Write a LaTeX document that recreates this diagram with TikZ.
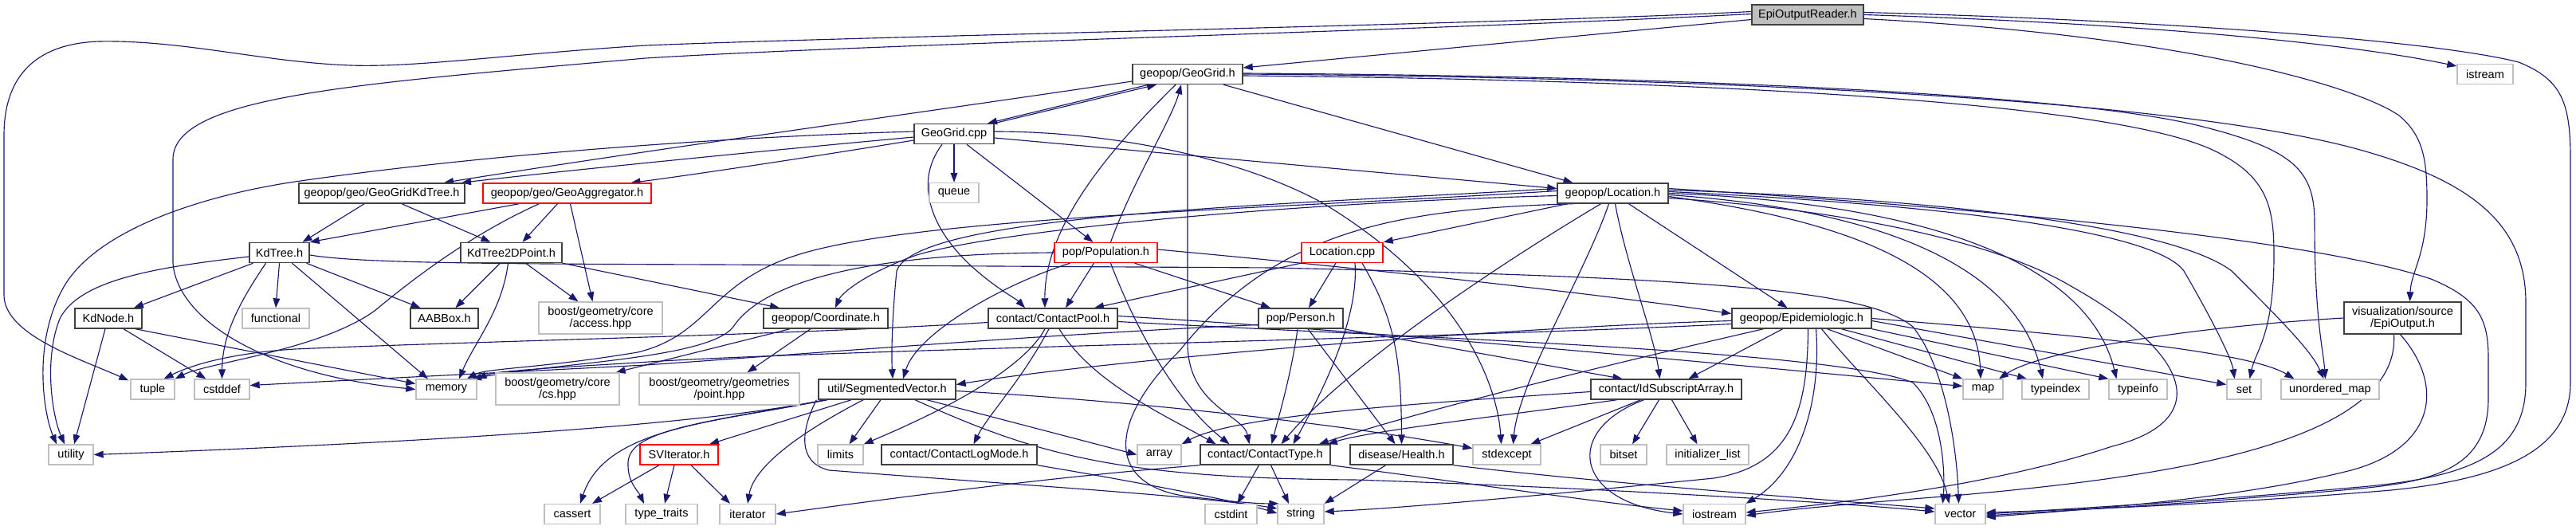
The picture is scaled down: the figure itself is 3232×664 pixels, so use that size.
\documentclass[tikz,border=0pt]{standalone}
\usepackage{fontspec}
\setmainfont{Liberation Sans}
\usetikzlibrary{arrows.meta,calc}
\definecolor{edgec}{RGB}{25,25,112}
\definecolor{intb}{RGB}{64,64,64}
\definecolor{extb}{RGB}{191,191,191}
\definecolor{rootf}{RGB}{191,191,191}
\pgfdeclarelayer{bg}
\pgfsetlayers{bg,main}
\begin{document}
\begin{tikzpicture}[x=0.75pt,y=-0.75pt,
  nb/.style={rectangle,inner sep=0pt,minimum height=18.75pt,font=\fontsize{10.9}{11.5}\selectfont,fill=white,line width=1.1pt,draw=intb,align=center},
  ext/.style={nb,draw=extb,line width=1pt},
  redb/.style={nb,draw=red,line width=1pt},
  rootb/.style={nb,fill=rootf},
  e/.style={draw=edgec,line width=0.85pt,-{Triangle[length=9pt,width=6.5pt]}}]
\begin{pgfonlayer}{bg}
\fill[white] (0,0) rectangle (3232,664);
\end{pgfonlayer}
\path[use as bounding box] (0,0) rectangle (3232,664);
% nodes
\node[rootb,minimum width=105pt] (EOR) at (2268,18.5) {EpiOutputReader.h};
\node[nb,minimum width=103.5pt] (GG) at (1490,93) {geopop/GeoGrid.h};
\node[ext,minimum width=52.5pt] (IST) at (3118,93) {istream};
\node[nb,minimum width=75pt] (GGC) at (1197,168) {GeoGrid.cpp};
\node[nb,minimum width=156pt] (GKD) at (479,242.5) {geopop/geo/GeoGridKdTree.h};
\node[redb,minimum width=158.25pt] (GAG) at (711.5,242.5) {geopop/geo/GeoAggregator.h};
\node[ext,minimum width=46.5pt] (QUE) at (1197,242) {queue};
\node[nb,minimum width=104.25pt] (LOC) at (2023.5,242.5) {geopop/Location.h};
\node[nb,minimum width=56.25pt] (KDT) at (350.5,317) {KdTree.h};
\node[nb,minimum width=95.25pt] (KD2) at (641.5,317) {KdTree2DPoint.h};
\node[redb,minimum width=96.75pt] (POP) at (1387.5,317) {pop/Population.h};
\node[redb,minimum width=76.5pt] (LCPP) at (1684,317) {Location.cpp};
\node[nb,minimum width=63pt] (KDN) at (136,399.5) {KdNode.h};
\node[ext,minimum width=63pt] (FUN) at (346,399.5) {functional};
\node[nb,minimum width=63.75pt] (AAB) at (557.5,399.5) {AABBox.h};
\node[ext,minimum width=116.25pt,minimum height=30pt] (ACC) at (753.5,399) {boost/geometry/core\\/access.hpp};
\node[nb,minimum width=117pt] (COO) at (1036,399.5) {geopop/Coordinate.h};
\node[nb,minimum width=121.5pt] (CPL) at (1321,399.5) {contact/ContactPool.h};
\node[nb,minimum width=79.5pt] (PER) at (1632,399.5) {pop/Person.h};
\node[nb,minimum width=131.25pt] (EPI) at (2260.5,399.5) {geopop/Epidemiologic.h};
\node[nb,minimum width=110.25pt,minimum height=30pt] (EPO) at (3014.5,399) {visualization/source\\/EpiOutput.h};
\node[ext,minimum width=41.25pt] (TUP) at (191.5,488.5) {tuple};
\node[ext,minimum width=51.75pt] (CSD) at (278.5,488.5) {cstddef};
\node[ext,minimum width=57pt] (MEM) at (560,488.5) {memory};
\node[ext,minimum width=116.25pt,minimum height=30pt] (CS) at (699.5,488) {boost/geometry/core\\/cs.hpp};
\node[ext,minimum width=150.75pt,minimum height=30pt] (PT) at (902.5,488) {boost/geometry/geometries\\/point.hpp};
\node[nb,minimum width=129pt] (SEG) at (1113,488.5) {util/SegmentedVector.h};
\node[nb,minimum width=141.75pt] (IDS) at (2090.5,488.5) {contact/IdSubscriptArray.h};
\node[ext,minimum width=37.5pt] (MAP) at (2488,488.5) {map};
\node[ext,minimum width=63pt] (TIX) at (2579,488.5) {typeindex};
\node[ext,minimum width=54.75pt] (TIF) at (2682.5,488.5) {typeinfo};
\node[ext,minimum width=32.25pt] (SET) at (2815.5,488.5) {set};
\node[ext,minimum width=92.25pt] (UMAP) at (2923.5,488.5) {unordered\_map};
\node[ext,minimum width=42pt] (UTL) at (89,570.5) {utility};
\node[redb,minimum width=73.5pt] (SVI) at (852,570.5) {SVIterator.h};
\node[ext,minimum width=42.75pt] (LIM) at (1054.5,570.5) {limits};
\node[nb,minimum width=146.25pt] (CLM) at (1203.5,570.5) {contact/ContactLogMode.h};
\node[ext,minimum width=41.25pt] (ARR) at (1454.5,570.5) {array};
\node[nb,minimum width=122.25pt] (CTY) at (1587.5,570.5) {contact/ContactType.h};
\node[nb,minimum width=96.75pt] (HEA) at (1758.5,570.5) {disease/Health.h};
\node[ext,minimum width=63.75pt] (SEX) at (1890.5,570.5) {stdexcept};
\node[ext,minimum width=43.5pt] (BIT) at (2037,570.5) {bitset};
\node[ext,minimum width=77.25pt] (INL) at (2142.5,570.5) {initializer\_list};
\node[ext,minimum width=52.5pt] (CAS) at (718,645) {cassert};
\node[ext,minimum width=67.5pt] (TYT) at (830,645) {type\_traits};
\node[ext,minimum width=52.5pt] (ITR) at (938,645) {iterator};
\node[ext,minimum width=48.75pt] (CSI) at (1544.5,645) {cstdint};
\node[ext,minimum width=43.5pt] (STR) at (1632,645) {string};
\node[ext,minimum width=58.5pt] (IOS) at (2151,645) {iostream};
\node[ext,minimum width=47.25pt] (VEC) at (2459.5,645) {vector};
\begin{pgfonlayer}{bg}
% EpiOutputReader.h
\draw[e] ($(EOR.west)+(0,6)$) -- ($(GG.east)+(0,-8)$);
\draw[e] (EOR.east) .. controls (2700,30) and (2950,55) .. ($(IST.west)+(0,-10)$);
\draw[e] ($(EOR.east)+(0,5)$) .. controls (2750,45) and (2960,110) .. (3010,145) .. controls (3040,170) and (3045,200) .. (3045,250) .. controls (3045,320) and (3025,340) .. ($(EPO.north)+(9,0)$);
\draw[e] ($(EOR.east)+(0,-3)$) .. controls (2700,25) and (3050,50) .. (3160,78) .. controls (3215,100) and (3225,130) .. (3225,200) -- (3225,480) .. controls (3225,560) and (3150,600) .. (3000,615) .. controls (2800,632) and (2600,640) .. ($(VEC.east)+(0,-2)$);
\draw[e] ($(EOR.west)+(0,-4)$) .. controls (1900,30) and (1100,45) .. (810,57) .. controls (650,67) and (520,85) .. (440,82) .. controls (330,78) and (230,50) .. (124,52) .. controls (40,55) and (5,100) .. (5,170) -- (5,370) .. controls (5,420) and (100,450) .. ($(TUP.north west)+(-2,2)$);
\draw[e] ($(EOR.west)+(0,-1)$) .. controls (1800,38) and (1100,55) .. (810,73) .. controls (450,105) and (217,120) .. (217,200) -- (217,330) .. controls (222,400) and (330,470) .. (MEM.west);
% geopop/GeoGrid.h
\draw[e] ($(GG.south)+(-49,0)$) -- ($(GGC.north)+(42,0)$);
\draw[e] ($(GG.west)+(0,9)$) .. controls (1200,135) and (800,190) .. ($(GKD.north)+(78,0)$);
\draw[e] ($(GG.south)+(45,0)$) -- ($(LOC.north)+(-50,0)$);
\draw[e] ($(GG.south)+(-15,0)$) .. controls (1400,180) and (1310,280) .. ($(CPL.north)+(-10,0)$);
\draw[e] (GG.south) -- (1490,430) .. controls (1490,510) and (1560,520) .. ($(CTY.north)+(-20,0)$);
\draw[e] ($(GG.east)+(0,-1)$) .. controls (2100,95) and (2600,118) .. (2760,158) .. controls (2880,188) and (2904,215) .. (2904,280) .. controls (2904,400) and (2915,440) .. ($(UMAP.north)+(-6,0)$);
\draw[e] ($(GG.east)+(0,2)$) .. controls (2100,100) and (2650,125) .. (2780,190) .. controls (2845,222) and (2853,260) .. (2853,320) .. controls (2853,420) and (2830,440) .. ($(SET.north)+(7,0)$);
\draw[e] (GG.east) .. controls (2100,97) and (2700,120) .. (2950,185) .. controls (3100,225) and (3169,280) .. (3169,380) -- (3169,480) .. controls (3169,570) and (3100,600) .. (2950,612) .. controls (2750,630) and (2600,638) .. (VEC.east);
% GeoGrid.cpp
\draw[e] ($(GGC.north)+(50,0)$) -- ($(GG.south)+(-39,0)$);
\draw[e] ($(GGC.west)+(0,4)$) .. controls (950,190) and (700,215) .. ($(GKD.north)+(100,0)$);
\draw[e] ($(GGC.west)+(0,8)$) .. controls (1000,200) and (850,222) .. ($(GAG.north)+(80,0)$);
\draw[e] ($(GGC.west)+(0,-3)$) .. controls (900,172) and (600,195) .. (377,227) .. controls (250,245) and (120,290) .. (80,360) .. controls (40,430) and (55,520) .. ($(UTL.north)+(-18,0)$);
\draw[e] (GGC.south) -- (QUE.north);
\draw[e] ($(GGC.south)+(16,0)$) -- ($(POP.north)+(-16,0)$);
\draw[e] ($(GGC.south)+(-15,0)$) .. controls (1145,230) and (1170,290) .. (1220,335) .. controls (1250,362) and (1275,375) .. ($(CPL.north)+(-35,0)$);
\draw[e] ($(GGC.east)+(0,5)$) -- ($(LOC.west)+(0,-6)$);
\draw[e] ($(GGC.east)+(0,-3)$) .. controls (1400,165) and (1560,200) .. (1660,255) .. controls (1850,370) and (1880,500) .. ($(SEX.north)+(-7,0)$);
% GeoGridKdTree.h, GeoAggregator.h
\draw[e] ($(GKD.south)+(-22,0)$) -- ($(KDT.north)+(29,0)$);
\draw[e] ($(GKD.south)+(25,0)$) -- ($(KD2.north)+(-26,0)$);
\draw[e] ($(GAG.south)+(-60,0)$) -- (KDT.north east);
\draw[e] ($(GAG.south)+(-12,0)$) -- ($(KD2.north)+(14,0)$);
\draw[e] ($(GAG.south)+(-35,0)$) .. controls (600,290) and (530,340) .. (470,390) .. controls (400,440) and (260,455) .. (TUP.north east);
\draw[e] ($(GAG.south)+(4,0)$) -- ($(ACC.north)+(-10,0)$);
% KdTree.h
\draw[e] ($(KDT.south)+(-33,0)$) -- ($(KDN.north)+(32,0)$);
\draw[e] ($(KDT.south)+(-17,0)$) .. controls (300,380) and (279,420) .. (CSD.north);
\draw[e] (KDT.south) -- (FUN.north);
\draw[e] ($(KDT.south)+(16,0)$) -- ($(MEM.north)+(-23,0)$);
\draw[e] ($(KDT.south)+(34,0)$) -- ($(AAB.north)+(-30,0)$);
\draw[e] ($(KDT.west)+(0,5)$) .. controls (200,335) and (100,350) .. (75,400) .. controls (55,450) and (65,520) .. ($(UTL.north)+(-8,0)$);
\draw[e] ($(KDT.east)+(0,3)$) .. controls (450,330) and (600,331) .. (900,332) -- (1600,336) .. controls (2100,348) and (2340,360) .. (2400,410) .. controls (2440,460) and (2455,560) .. ($(VEC.north)+(-2,0)$);
% KdTree2DPoint.h
\draw[e] ($(KD2.south)+(-14,0)$) -- ($(AAB.north)+(14,0)$);
\draw[e] ($(KD2.south)+(-4,0)$) .. controls (630,390) and (595,430) .. ($(MEM.north)+(16,0)$);
\draw[e] ($(KD2.south)+(18,0)$) -- ($(ACC.north)+(-28,0)$);
\draw[e] (KD2.south east) -- ($(COO.north)+(-58,0)$);
% KdNode.h
\draw[e] ($(KDN.south)+(-4,0)$) -- ($(UTL.north)+(4,0)$);
\draw[e] ($(KDN.south)+(19,0)$) -- ($(CSD.north)+(-20,0)$);
\draw[e] ($(KDN.south)+(34,0)$) -- ($(MEM.west)+(0,-7)$);
% Coordinate.h
\draw[e] ($(COO.south)+(-45,0)$) -- ($(CS.north east)+(-5,0)$);
\draw[e] ($(COO.south)+(-19,0)$) -- ($(PT.north)+(35,0)$);
% Population.h
\draw[e] ($(POP.north)+(6,0)$) .. controls (1420,230) and (1470,150) .. ($(GG.south)+(-8,0)$);
\draw[e] ($(POP.south)+(-15,0)$) -- ($(CPL.north)+(16,0)$);
\draw[e] ($(POP.south)+(36,0)$) -- ($(PER.north)+(-38,0)$);
\draw[e] ($(POP.east)+(0,-4)$) .. controls (1800,345) and (2050,375) .. ($(EPI.west)+(0,-6)$);
\draw[e] (POP.west) .. controls (1100,318) and (960,350) .. (920,410) .. controls (890,450) and (700,455) .. ($(MEM.north)+(32,0)$);
\draw[e] ($(POP.south)+(-45,0)$) .. controls (1250,360) and (1150,420) .. ($(SEG.north)+(20,0)$);
\draw[e] ($(POP.south)+(6,0)$) .. controls (1420,400) and (1470,500) .. ($(CTY.north)+(-45,0)$);
% Location.h
\draw[e] ($(LOC.south)+(-57,0)$) -- (LCPP.north east);
\draw[e] ($(LOC.west)+(0,-3)$) .. controls (1600,262) and (1150,272) .. (1000,320) .. controls (890,355) and (890,420) .. (800,442) .. controls (680,462) and (610,462) .. ($(MEM.north)+(26,0)$);
\draw[e] ($(LOC.west)+(0,3)$) .. controls (1600,255) and (1250,290) .. (1150,320) .. controls (1080,345) and (1055,370) .. ($(COO.north)+(12,0)$);
\draw[e] ($(LOC.west)+(0,-6)$) .. controls (1600,258) and (1150,268) .. (1125,340) .. controls (1120,390) and (1118,440) .. ($(SEG.north)+(7,0)$);
\draw[e] ($(LOC.south)+(-50,0)$) .. controls (1750,262) and (1600,290) .. (1480,440) .. controls (1380,540) and (1395,615) .. (1500,624) .. controls (1550,630) and (1580,632) .. ($(STR.north west)+(2,0)$);
\draw[e] ($(LOC.south)+(-15,0)$) .. controls (1850,350) and (1680,470) .. ($(CTY.north)+(20,0)$);
\draw[e] ($(LOC.south)+(-5,0)$) .. controls (1990,340) and (1905,480) .. ($(SEX.north)+(8,0)$);
\draw[e] ($(LOC.south)+(3,0)$) .. controls (2040,330) and (2075,420) .. ($(IDS.north)+(-8,0)$);
\draw[e] ($(LOC.south)+(20,0)$) -- ($(EPI.north)+(-18,0)$);
\draw[e] ($(LOC.east)+(0,4)$) .. controls (2300,275) and (2480,330) .. ($(MAP.north)+(-3,0)$);
\draw[e] ($(LOC.east)+(0,2)$) .. controls (2350,262) and (2530,330) .. ($(TIX.north)+(-16,0)$);
\draw[e] (LOC.east) .. controls (2420,255) and (2620,330) .. ($(TIF.north)+(-27,0)$);
\draw[e] ($(LOC.east)+(0,-2)$) .. controls (2400,255) and (2700,285) .. (2740,340) .. controls (2775,400) and (2800,450) .. ($(SET.north)+(-12,0)$);
\draw[e] ($(LOC.east)+(0,-4)$) .. controls (2400,248) and (2720,280) .. (2800,340) .. controls (2860,400) and (2900,440) .. ($(UMAP.north)+(-8,0)$);
\draw[e] ($(LOC.east)+(0,-6)$) .. controls (2500,262) and (2900,300) .. (3050,350) .. controls (3110,375) and (3122,400) .. (3122,450) -- (3122,500) .. controls (3122,590) and (3050,605) .. (2950,614) .. controls (2750,632) and (2600,640) .. ($(VEC.east)+(0,2)$);
\draw[e] ($(LOC.east)+(0,6)$) .. controls (2300,262) and (2500,300) .. (2600,360) .. controls (2760,450) and (2770,530) .. (2650,560) .. controls (2500,610) and (2300,632) .. ($(IOS.east)+(0,-2)$);
% Location.cpp
\draw[e] (LCPP.south west) -- ($(CPL.north)+(52,0)$);
\draw[e] ($(LCPP.south)+(-8,0)$) -- ($(PER.north)+(10,0)$);
\draw[e] ($(LCPP.south)+(16,0)$) .. controls (1705,400) and (1660,490) .. ($(CTY.north)+(35,0)$);
\draw[e] ($(LCPP.south)+(25,0)$) .. controls (1750,400) and (1758,450) .. (HEA.north);
% ContactPool.h
\draw[e] ($(CPL.west)+(0,5)$) .. controls (1000,420) and (600,428) .. (370,438) .. controls (290,443) and (240,458) .. ($(TUP.north)+(14,0)$);
\draw[e] ($(CPL.south)+(-10,0)$) .. controls (1280,470) and (1160,525) .. (LIM.north east);
\draw[e] ($(CPL.south)+(-5,0)$) .. controls (1280,480) and (1240,520) .. ($(CLM.north)+(18,0)$);
\draw[e] ($(CPL.south)+(8,0)$) .. controls (1370,480) and (1460,520) .. ($(CTY.north)+(-62,0)$);
\draw[e] ($(CPL.east)+(0,-3)$) .. controls (1800,420) and (2300,470) .. ($(MAP.west)+(0,-4)$);
\draw[e] ($(CPL.east)+(0,4)$) .. controls (1800,425) and (2300,440) .. (2400,480) .. controls (2440,520) and (2440,600) .. ($(VEC.north)+(-22,0)$);
% Person.h
\draw[e] ($(PER.south)+(-4,0)$) .. controls (1620,470) and (1605,520) .. ($(CTY.north)+(8,0)$);
\draw[e] ($(PER.south)+(9,0)$) -- ($(HEA.north)+(-8,0)$);
\draw[e] (PER.south east) -- ($(IDS.north)+(-55,0)$);
\draw[e] ($(PER.west)+(0,8)$) .. controls (1300,420) and (1000,445) .. (810,458) -- ($(CSD.east)+(0,-5)$);
% Epidemiologic.h
\draw[e] ($(EPI.south)+(-24,0)$) -- ($(IDS.north)+(28,0)$);
\draw[e] ($(EPI.south)+(-48,0)$) .. controls (2050,450) and (1800,510) .. ($(CTY.north east)+(-15,0)$);
\draw[e] ($(EPI.west)+(0,3)$) .. controls (1900,410) and (1400,450) .. ($(SEG.east)+(0,-6)$);
\draw[e] ($(EPI.west)+(0,7)$) .. controls (1800,425) and (1000,440) .. (800,455) .. controls (680,462) and (620,466) .. (MEM.north east);
\draw[e] ($(EPI.south)+(18,0)$) .. controls (2285,500) and (2260,590) .. (IOS.north east);
\draw[e] ($(EPI.south)+(8,0)$) .. controls (2268,520) and (2245,585) .. (2150,600) .. controls (1900,625) and (1750,638) .. ($(STR.east)+(0,-3)$);
\draw[e] ($(EPI.south)+(25,0)$) .. controls (2340,480) and (2430,560) .. ($(VEC.north)+(-14,0)$);
\draw[e] ($(EPI.south)+(32,0)$) -- (MAP.north west);
\draw[e] ($(EPI.south)+(50,0)$) -- ($(TIX.north)+(-36,0)$);
\draw[e] (EPI.south east) -- (TIF.north west);
\draw[e] ($(EPI.east)+(0,3)$) -- ($(SET.west)+(0,-6)$);
\draw[e] (EPI.east) .. controls (2600,420) and (2820,440) .. ($(UMAP.north)+(-45,0)$);
% IdSubscriptArray.h
\draw[e] ($(IDS.west)+(0,3)$) .. controls (1800,505) and (1550,520) .. (ARR.north east);
\draw[e] ($(IDS.south)+(-62,0)$) .. controls (1900,520) and (1720,540) .. ($(CTY.north east)+(-4,0)$);
\draw[e] ($(IDS.south)+(-32,0)$) -- ($(SEX.north)+(30,0)$);
\draw[e] ($(IDS.south)+(-28,0)$) .. controls (1960,540) and (1975,630) .. (IOS.west);
\draw[e] ($(IDS.south)+(-9,0)$) -- ($(BIT.north)+(11,0)$);
\draw[e] ($(IDS.south)+(7,0)$) -- ($(INL.north)+(-13,0)$);
% EpiOutput.h
\draw[e] (EPO.west) .. controls (2750,410) and (2560,440) .. ($(MAP.north)+(20,0)$);
\draw[e] ($(EPO.south)+(-11,0)$) .. controls (3012,560) and (2700,600) .. (2450,622) .. controls (2350,630) and (2250,638) .. ($(IOS.east)+(0,2)$);
\draw[e] ($(EPO.south)+(-3,0)$) .. controls (3065,480) and (3060,560) .. (2950,590) .. controls (2800,628) and (2600,640) .. ($(VEC.east)+(0,4)$);
% SegmentedVector.h
\draw[e] ($(SEG.south)+(-45,0)$) -- ($(SVI.north)+(38,0)$);
\draw[e] ($(SEG.south)+(-8,0)$) -- ($(LIM.north)+(11,0)$);
\draw[e] ($(SEG.south)+(-30,0)$) .. controls (990,550) and (945,590) .. (ITR.north);
\draw[e] ($(SEG.south)+(50,0)$) -- (ARR.west);
\draw[e] ($(SEG.south west)+(8,0)$) .. controls (850,540) and (400,560) .. (UTL.east);
\draw[e] ($(SEG.south west)+(10,0)$) .. controls (900,530) and (760,535) .. ($(CAS.north)+(10,0)$);
\draw[e] ($(SEG.south west)+(12,0)$) .. controls (880,530) and (790,540) .. (788,580) .. controls (787,605) and (800,615) .. ($(TYT.north)+(-22,0)$);
\draw[e] ($(SEG.east)+(0,2)$) .. controls (1450,505) and (1700,535) .. ($(SEX.west)+(0,-8)$);
\draw[e] ($(SEG.south west)+(-2,0)$) .. controls (1005,540) and (1000,580) .. (1040,590) .. controls (1300,610) and (1500,622) .. ($(STR.west)+(0,-7)$);
\draw[e] ($(SEG.south)+(35,0)$) .. controls (1300,570) and (1400,600) .. (1700,602) .. controls (2000,612) and (2300,630) .. ($(VEC.west)+(0,-3)$);
% SVIterator.h
\draw[e] ($(SVI.south)+(-25,0)$) -- ($(CAS.north)+(25,0)$);
\draw[e] ($(SVI.south)+(-6,0)$) -- ($(TYT.north)+(4,0)$);
\draw[e] ($(SVI.south)+(15,0)$) -- ($(ITR.north)+(-22,0)$);
% ContactType.h, Health.h, ContactLogMode.h
\draw[e] ($(CTY.south)+(-8,0)$) -- ($(CSI.north)+(8,0)$);
\draw[e] ($(CTY.south)+(7,0)$) -- ($(STR.north)+(-15,0)$);
\draw[e] (CTY.south west) .. controls (1300,600) and (1100,628) .. (ITR.east);
\draw[e] (CTY.south east) .. controls (1800,600) and (2000,630) .. ($(IOS.west)+(0,-4)$);
\draw[e] ($(HEA.south)+(-20,0)$) -- (STR.north east);
\draw[e] (HEA.south east) .. controls (2000,605) and (2300,628) .. ($(VEC.west)+(0,-7)$);
\draw[e] (CLM.south east) .. controls (1400,600) and (1550,628) .. ($(STR.west)+(0,-1)$);
\end{pgfonlayer}
\end{tikzpicture}
\end{document}
